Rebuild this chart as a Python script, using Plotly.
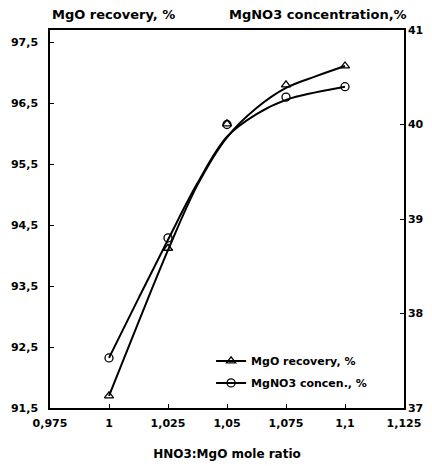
import plotly.graph_objects as go

# Measured points
ratio = [1.0, 1.025, 1.05, 1.075, 1.1]
mgo_recovery = [91.70, 94.12, 96.16, 96.80, 97.11]
mgno3_conc = [37.53, 38.80, 40.00, 40.29, 40.40]

# Smoothed (fitted) curves
curve_ratio = [1.0, 1.0125, 1.025, 1.0375, 1.05, 1.0625, 1.075, 1.0875, 1.1]
mgo_curve = [91.70, 92.91, 94.09, 95.16, 95.94, 96.42, 96.75, 96.94, 97.11]
mgno3_curve = [37.53, 38.16, 38.78, 39.38, 39.87, 40.11, 40.26, 40.34, 40.40]

x_ticks = [0.975, 1.0, 1.025, 1.05, 1.075, 1.1, 1.125]
x_ticktext = ["0,975", "1", "1,025", "1,05", "1,075", "1,1", "1,125"]
left_ticks = [91.5, 92.5, 93.5, 94.5, 95.5, 96.5, 97.5]
left_ticktext = ["91,5", "92,5", "93,5", "94,5", "95,5", "96,5", "97,5"]
right_ticks = [37, 38, 39, 40, 41]
right_ticktext = ["37", "38", "39", "40", "41"]

FONT = "DejaVu Sans"
bold = dict(family=FONT, size=11, color="black", weight="bold")

fig = go.Figure()

fig.add_trace(go.Scatter(x=curve_ratio, y=mgo_curve, mode="lines",
                         line=dict(color="black", width=2, shape="spline"),
                         showlegend=False, hoverinfo="skip"))
fig.add_trace(go.Scatter(x=curve_ratio, y=mgno3_curve, mode="lines", yaxis="y2",
                         line=dict(color="black", width=2, shape="spline"),
                         showlegend=False, hoverinfo="skip"))
fig.add_trace(go.Scatter(x=ratio, y=mgo_recovery, mode="markers",
                         marker=dict(symbol="triangle-up-open", size=8, color="black",
                                     line=dict(width=1.3, color="black")),
                         showlegend=False))
fig.add_trace(go.Scatter(x=ratio, y=mgno3_conc, mode="markers", yaxis="y2",
                         marker=dict(symbol="circle-open", size=8, color="black",
                                     line=dict(width=1.3, color="black")),
                         showlegend=False))

# Legend entries
fig.add_trace(go.Scatter(x=[None], y=[None], mode="lines+markers", name="MgO recovery, %",
                         legendgroup="a",
                         line=dict(color="black", width=2),
                         marker=dict(symbol="triangle-up-open", size=8, color="black",
                                     line=dict(width=1.3, color="black"))))
fig.add_trace(go.Scatter(x=[None], y=[None], mode="lines+markers", name="MgNO3 concen., %",
                         legendgroup="b",
                         line=dict(color="black", width=2),
                         marker=dict(symbol="circle-open", size=8, color="black",
                                     line=dict(width=1.3, color="black"))))

axis_common = dict(showgrid=False, zeroline=False, showline=True, linecolor="black",
                   linewidth=1.5, ticks="inside", ticklen=4, tickcolor="black",
                   tickfont=bold, automargin=False)

# The page body adds an 8px offset at left/top, so the figure is sized 8px smaller
fig.update_layout(
    width=424, height=458,
    margin=dict(l=42, r=28, t=22, b=58),
    paper_bgcolor="white", plot_bgcolor="white",
    font=dict(family=FONT, color="black"),
    xaxis=dict(range=[0.975, 1.125], tickvals=x_ticks, ticktext=x_ticktext,
               mirror=True, ticklabelstandoff=4,
               title=dict(text="HNO3:MgO mole ratio", font=dict(family=FONT, size=12,
                                                                  color="black", weight="bold"),
                          standoff=21),
               **axis_common),
    yaxis=dict(range=[91.5, 97.7], tickvals=left_ticks, ticktext=left_ticktext,
               ticklabelstandoff=8, **axis_common),
    yaxis2=dict(range=[37, 41], tickvals=right_ticks, ticktext=right_ticktext,
                overlaying="y", side="right", **axis_common),
    legend=dict(x=0.455, y=0.163, xanchor="left", yanchor="top",
                bgcolor="rgba(0,0,0,0)", font=dict(family=FONT, size=11, color="black",
                                                   weight="bold"),
                tracegroupgap=3),
    annotations=[
        dict(text="MgO recovery, %", xref="paper", yref="paper", x=0, y=1,
             xanchor="left", yanchor="bottom", yshift=6, showarrow=False,
             font=dict(family=FONT, size=13, color="black", weight="bold")),
        dict(text="MgNO3 concentration,%", xref="paper", yref="paper", x=1.015, y=1,
             xanchor="right", yanchor="bottom", yshift=6, showarrow=False,
             font=dict(family=FONT, size=13, color="black", weight="bold")),
    ],
)

fig.write_html("out.html")
